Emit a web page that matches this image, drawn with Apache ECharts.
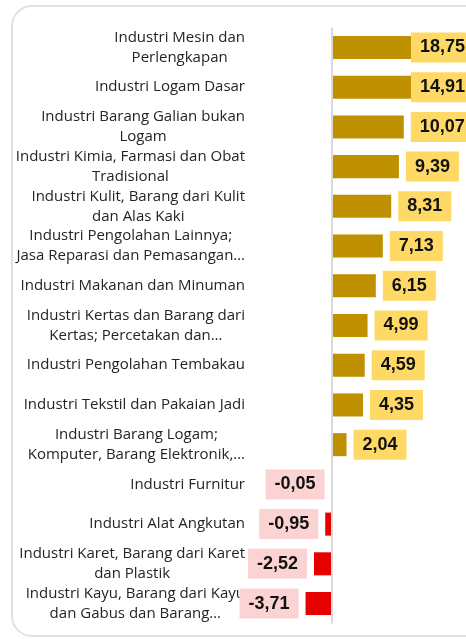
<!DOCTYPE html>
<html>
<head>
<meta charset="utf-8">
<script src="https://cdn.jsdelivr.net/npm/echarts@6/dist/echarts.min.js"></script>
<style>
  html, body { margin: 0; padding: 0; background: #fff; }
  #main { width: 466px; height: 639px; }
</style>
</head>
<body>
<div id="main"></div>
<script>
// kategori industri (urut dari atas)
var categories = [
  "Industri Mesin dan\nPerlengkapan",
  "Industri Logam Dasar",
  "Industri Barang Galian bukan\nLogam",
  "Industri Kimia, Farmasi dan Obat\nTradisional",
  "Industri Kulit, Barang dari Kulit\ndan Alas Kaki",
  "Industri Pengolahan Lainnya;\nJasa Reparasi dan Pemasangan…",
  "Industri Makanan dan Minuman",
  "Industri Kertas dan Barang dari\nKertas; Percetakan dan…",
  "Industri Pengolahan Tembakau",
  "Industri Tekstil dan Pakaian Jadi",
  "Industri Barang Logam;\nKomputer, Barang Elektronik,…",
  "Industri Furnitur",
  "Industri Alat Angkutan",
  "Industri Karet, Barang dari Karet\ndan Plastik",
  "Industri Kayu, Barang dari Kayu\ndan Gabus dan Barang…"
];
var values = [18.75, 14.91, 10.07, 9.39, 8.31, 7.13, 6.15, 4.99, 4.59, 4.35, 2.04, -0.05, -0.95, -2.52, -3.71];

var posColor = "#bf9000";
var negColor = "#e60000";

var myChart = echarts.init(document.getElementById("main"));

var barData = values.map(function (v) {
  var neg = v < 0;
  return {
    value: v,
    itemStyle: { color: neg ? negColor : posColor },
    label: {
      position: neg ? "left" : "right",
      backgroundColor: neg ? "#fbd3d3" : "#ffd966"
    }
  };
});

var option = {
  animation: false,
  graphic: [
    {
      type: "rect",
      z: -10,
      shape: { x: 12, y: 6, width: 480, height: 630, r: 20 },
      style: { fill: "#fff", stroke: "#e1e1e1", lineWidth: 2 }
    }
  ],
  grid: { left: 250, right: 0, top: 27.6, bottom: 15.6 },
  xAxis: {
    type: "value",
    min: -11.5,
    max: 18.8,
    show: false
  },
  yAxis: {
    type: "category",
    inverse: true,
    data: categories,
    axisLine: { show: false },
    axisTick: { show: false },
    axisLabel: {
      margin: 5,
      formatter: function (s) {
        // tiap baris di tengah, blok rata kanan
        return s.split("\n").map(function (l) { return "{c|" + l + "}"; }).join("\n");
      },
      rich: {
        c: {
          align: "center",
          fontFamily: "Open Sans",
          fontSize: 15,
          lineHeight: 20,
          color: "#252423"
        }
      }
    }
  },
  series: [
    {
      type: "bar",
      data: barData,
      barCategoryGap: "42%",
      label: {
        show: true,
        distance: 7,
        padding: [6, 9],
        fontFamily: "Liberation Sans",
        fontWeight: "bold",
        fontSize: 18,
        lineHeight: 18,
        color: "#111",
        formatter: function (p) {
          return p.value.toFixed(2).replace(".", ",");
        }
      },
      // label yang terlalu ke kanan ditahan di dalam kartu
      labelLayout: function (p) {
        var limit = myChart.getWidth() - 55;
        if (p.labelRect.x > limit) {
          return { dx: limit - p.labelRect.x };
        }
        return {};
      },
      markLine: {
        silent: true,
        symbol: ["none", "none"],
        label: { show: false },
        lineStyle: { color: "#d9d9d9", width: 2, type: "solid" },
        data: [{ xAxis: 0 }]
      }
    }
  ]
};

myChart.setOption(option);
</script>
</body>
</html>
